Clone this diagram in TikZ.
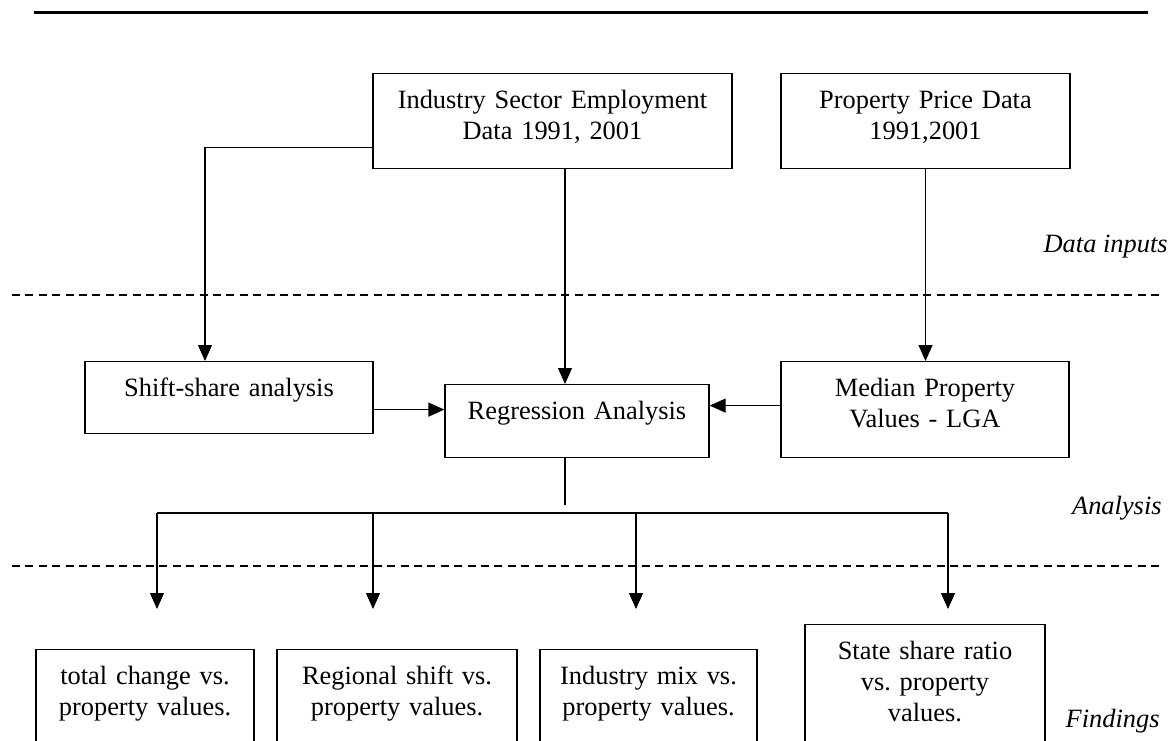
\documentclass[tikz,border=0pt]{standalone}
\usepackage{fontspec}
\setmainfont{Liberation Serif}
\usetikzlibrary{arrows.meta, calc}

\newcommand{\boxfont}{\fontsize{13.2}{15.5}\selectfont}

\tikzset{
  textbox/.style={draw, line width=0.6pt, anchor=north, inner xsep=0pt, inner ysep=0pt,
    align=center, text height=17.5pt},
  flow/.style={line width=0.6pt, -{Triangle[length=8pt, width=7pt]}},
  divider/.style={line width=0.6pt, dash pattern=on 4pt off 2.7pt},
  stage/.style={anchor=base east, inner sep=0pt, font=\boxfont\itshape}
}

\begin{document}
\begin{tikzpicture}[x=0.5pt, y=-0.5pt, font=\boxfont]
  \clip (0,0) rectangle (1173,740);

  % rules
  \draw[line width=1.3pt] (34,12.7) -- (1148,12.7);
  \draw[divider] (12,295) -- (1163,295);
  \draw[divider] (12,566) -- (1163,566);

  % data inputs
  \node[textbox, text width=179.5pt, text depth=30pt] (ind) at (552.5,73) {Industry Sector Employment\\Data 1991, 2001};
  \node[textbox, text width=144.5pt, text depth=30pt] (prop) at (925.5,73) {Property Price Data\\1991,2001};

  % analysis
  \node[textbox, text width=144pt, text depth=18.5pt] (shift) at (229,361) {Shift-share analysis};
  \node[textbox, text width=132pt, text depth=19pt] (reg) at (577,384) {Regression Analysis};
  \node[textbox, text width=144pt, text depth=30.5pt] (med) at (925,361) {Median Property\\Values - LGA};

  % findings
  \foreach \n/\x/\y/\w/\txt in {
    1/145/649/109/{total change vs.\\property values.},
    2/397/649/120/{Regional shift vs.\\property values.},
    3/648.5/649/108.5/{Industry mix vs.\\property values.},
    4/925/624/120/{State share ratio\\vs.\ property\\values.}}
    \node[textbox, text width=\w pt, text depth=50pt] (find\n) at (\x,\y) {\txt};

  % stage labels
  \node[stage] (inputs) at (1168,252) {Data inputs};
  \node[stage] (analysis) at (1162,514) {Analysis};
  \node[stage] (findings) at (1160,727) {Findings};

  % connectors
  \draw[flow] ([yshift=-13.25pt]ind.west) -| ([xshift=-12pt]shift.north);
  \draw[flow] ([xshift=6.25pt]ind.south) -- ([xshift=6.25pt]ind.south |- reg.north);
  \draw[flow] (prop.south) -- (prop.south |- med.north);
  \draw[flow] ([yshift=-6pt]shift.east) -- ([yshift=-6pt]shift.east -| reg.west);
  \draw[flow] ([yshift=2pt]med.west) -- ([yshift=2pt]med.west -| reg.east);

  \coordinate (split) at (565,505);
  \draw[line width=0.6pt] ([xshift=-6pt]reg.south) -- (split);
  \coordinate (busL) at (157,513);
  \coordinate (busR) at (948,513);
  \draw[line width=0.6pt] (busL) -- (busR);
  \foreach \n/\x in {1/157,2/373,3/636,4/948}{
    \coordinate (drop\n) at (\x,513);
    \coordinate (tip\n) at (\x,609);
    \draw[flow] (drop\n) -- (tip\n);
  }
\end{tikzpicture}
\end{document}
